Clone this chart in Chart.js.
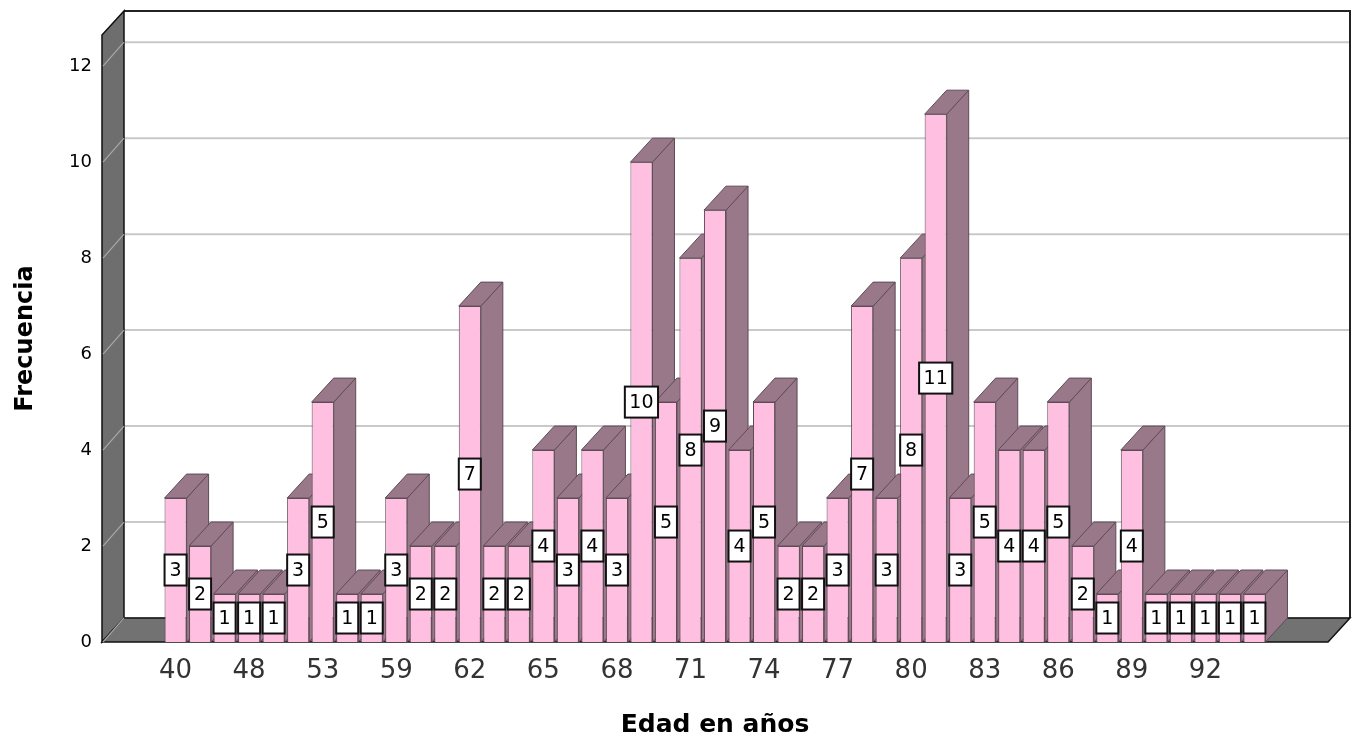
<!DOCTYPE html>
<html>
<head>
<meta charset="utf-8">
<style>
  html, body { margin: 0; padding: 0; background: #ffffff; }
  canvas { display: block; }
</style>
<script src="https://cdn.jsdelivr.net/npm/chart.js@4/dist/chart.umd.min.js"></script>
</head>
<body>
<canvas id="chart" width="1354" height="738"></canvas>
<script>
// Ages (years) in order along the x axis
const ages = [40, 43, 45, 48, 50, 51, 53, 55, 57, 59, 60, 61, 62, 63, 64, 65, 66, 67, 68, 69,
              70, 71, 72, 73, 74, 75, 76, 77, 78, 79, 80, 81, 82, 83, 84, 85, 86, 87, 88, 89,
              90, 91, 92, 93, 94];
// Number of people of each age
const frequencies = [3, 2, 1, 1, 1, 3, 5, 1, 1, 3, 2, 2, 7, 2, 2, 4, 3, 4, 3, 10,
                     5, 8, 9, 4, 5, 2, 2, 3, 7, 3, 8, 11, 3, 5, 4, 4, 5, 2, 1, 4,
                     1, 1, 1, 1, 1];
// Positions (index into ages) that carry an x tick label
const xTickPositions = [0, 3, 6, 9, 12, 15, 18, 21, 24, 27, 30, 33, 36, 39, 42];
// Frequency ticks on the y axis
const yTickValues = [0, 2, 4, 6, 8, 10, 12];

const FONT = '"DejaVu Sans", "Liberation Sans", Arial, sans-serif';
const DEPTH_X = 22;   // depth of the 3D box, horizontal
const DEPTH_Y = 24;   // depth of the 3D box, vertical

const FRONT = '#ffbfe0';
const SIDE = '#987889';
const EDGE = '#5f4b57';
const WALL = '#6e6e6e';

function poly(ctx, pts, fill, stroke, lw) {
  ctx.beginPath();
  ctx.moveTo(pts[0][0], pts[0][1]);
  for (let i = 1; i < pts.length; i++) ctx.lineTo(pts[i][0], pts[i][1]);
  ctx.closePath();
  if (fill) { ctx.fillStyle = fill; ctx.fill(); }
  if (stroke) { ctx.strokeStyle = stroke; ctx.lineWidth = lw || 1; ctx.stroke(); }
}

// Back wall, left wall, floor and the top/side faces of each bar
const box3d = {
  id: 'box3d',
  beforeDatasetsDraw(chart) {
    const ctx = chart.ctx;
    const a = chart.chartArea;
    const y = chart.scales.y;
    ctx.save();

    // grid lines on the back wall
    ctx.strokeStyle = '#c9c9c9';
    ctx.lineWidth = 2;
    yTickValues.forEach(v => {
      const py = y.getPixelForValue(v);
      ctx.beginPath();
      ctx.moveTo(a.left + DEPTH_X, py - DEPTH_Y);
      ctx.lineTo(a.right + DEPTH_X, py - DEPTH_Y);
      ctx.stroke();
    });

    // back wall outline (top and right)
    ctx.strokeStyle = '#222';
    ctx.lineWidth = 2;
    ctx.beginPath();
    ctx.moveTo(a.left + DEPTH_X, a.top - DEPTH_Y);
    ctx.lineTo(a.right + DEPTH_X, a.top - DEPTH_Y);
    ctx.lineTo(a.right + DEPTH_X, a.bottom - DEPTH_Y);
    ctx.stroke();

    // left wall
    poly(ctx, [[a.left, a.top], [a.left + DEPTH_X, a.top - DEPTH_Y],
               [a.left + DEPTH_X, a.bottom - DEPTH_Y], [a.left, a.bottom]], WALL, '#111', 1.5);
    ctx.strokeStyle = '#a8a8a8';
    ctx.lineWidth = 1.2;
    yTickValues.forEach(v => {
      const py = y.getPixelForValue(v);
      ctx.beginPath();
      ctx.moveTo(a.left + 1, py);
      ctx.lineTo(a.left + DEPTH_X, py - DEPTH_Y);
      ctx.stroke();
    });

    // floor
    poly(ctx, [[a.left, a.bottom], [a.left + DEPTH_X, a.bottom - DEPTH_Y],
               [a.right + DEPTH_X, a.bottom - DEPTH_Y], [a.right, a.bottom]], '#727272', '#111', 1.5);
    ctx.strokeStyle = '#a8a8a8';
    ctx.lineWidth = 1.2;
    ctx.beginPath();
    ctx.moveTo(a.left + 1, a.bottom);
    ctx.lineTo(a.left + DEPTH_X, a.bottom - DEPTH_Y);
    ctx.stroke();

    // bar tops and right-hand sides
    const meta = chart.getDatasetMeta(0);
    meta.data.forEach(bar => {
      const p = bar.getProps(['x', 'y', 'base', 'width'], true);
      const l = p.x - p.width / 2, r = p.x + p.width / 2;
      const t = p.y, b = p.base;
      poly(ctx, [[r, t], [r + DEPTH_X, t - DEPTH_Y], [r + DEPTH_X, b - DEPTH_Y], [r, b]], SIDE, EDGE, 1);
      poly(ctx, [[l, t], [l + DEPTH_X, t - DEPTH_Y], [r + DEPTH_X, t - DEPTH_Y], [r, t]], SIDE, EDGE, 1);
    });
    ctx.restore();
  },
  // value boxes at mid-height of each bar
  afterDatasetsDraw(chart) {
    const ctx = chart.ctx;
    const y = chart.scales.y;
    const meta = chart.getDatasetMeta(0);
    ctx.save();
    ctx.font = '19px ' + FONT;
    ctx.textAlign = 'center';
    ctx.textBaseline = 'middle';
    meta.data.forEach((bar, i) => {
      const v = frequencies[i];
      const txt = String(v);
      const cy = y.getPixelForValue(v / 2);
      const w = Math.max(22, ctx.measureText(txt).width + 9);
      const h = 31;
      ctx.fillStyle = '#ffffff';
      ctx.fillRect(bar.x - w / 2, cy - h / 2, w, h);
      ctx.strokeStyle = '#111';
      ctx.lineWidth = 2;
      ctx.strokeRect(bar.x - w / 2, cy - h / 2, w, h);
      ctx.fillStyle = '#000';
      ctx.fillText(txt, bar.x, cy + 1);
    });
    ctx.restore();
  }
};

new Chart(document.getElementById('chart'), {
  type: 'bar',
  data: {
    datasets: [{
      label: 'Frecuencia',
      data: ages.map((age, i) => ({ x: i, y: frequencies[i] })),
      backgroundColor: FRONT,
      borderColor: EDGE,
      borderWidth: 1,
      barPercentage: 0.9,
      categoryPercentage: 1.0
    }]
  },
  options: {
    responsive: false,
    devicePixelRatio: 1,
    animation: false,
    layout: { padding: { top: 35, right: 26, left: 0, bottom: 0 } },
    plugins: {
      legend: { display: false },
      tooltip: { enabled: false }
    },
    scales: {
      x: {
        type: 'linear',
        min: -3,
        max: 47,
        offset: false,
        grid: { display: false, drawTicks: false },
        border: { display: false },
        afterBuildTicks: s => { s.ticks = xTickPositions.map(v => ({ value: v })); },
        afterFit: s => { s.height = 96; },
        ticks: {
          autoSkip: false,
          maxRotation: 0,
          padding: 14,
          color: '#333',
          font: { family: FONT, size: 26 },
          callback: v => ages[v]
        },
        title: {
          display: true,
          text: 'Edad en años',
          color: '#000',
          font: { family: FONT, size: 25, weight: 'bold', lineHeight: 1 },
          padding: { top: 0, bottom: 0 }
        }
      },
      y: {
        min: 0,
        max: 12.65,
        grid: { display: false, drawTicks: false },
        border: { display: false },
        afterBuildTicks: s => { s.ticks = yTickValues.map(v => ({ value: v })); },
        afterFit: s => { s.width = 102; },
        ticks: {
          padding: 10,
          color: '#000',
          font: { family: FONT, size: 18 }
        },
        title: {
          display: true,
          text: 'Frecuencia',
          color: '#000',
          font: { family: FONT, size: 24, weight: 'bold', lineHeight: 1.2 },
          padding: { top: 11, bottom: 0 }
        }
      }
    }
  },
  plugins: [box3d]
});
</script>
</body>
</html>
